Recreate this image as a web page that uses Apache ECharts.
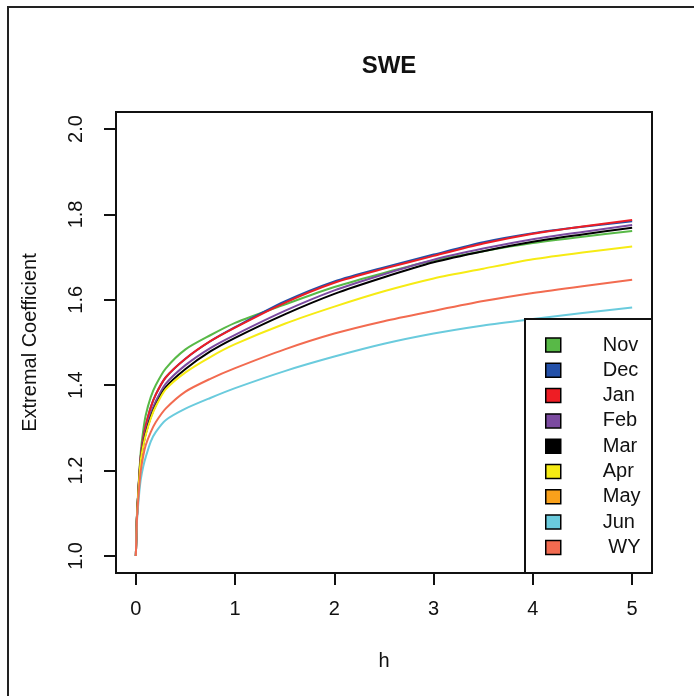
<!DOCTYPE html>
<html>
<head>
<meta charset="utf-8">
<script src="https://cdn.jsdelivr.net/npm/echarts@6/dist/echarts.min.js"></script>
<style>
html,body{margin:0;padding:0;background:#fff;}
#chart{width:694px;height:696px;}
</style>
</head>
<body>
<div id="chart"></div>
<script>
// ---- data ----
const hValues = [0, 0.01, 0.02, 0.035, 0.05, 0.075, 0.1, 0.15, 0.2, 0.3, 0.5, 0.75, 1, 1.5, 2, 2.5, 3, 3.5, 4, 4.5, 5];
const seriesNames = ['Nov', 'Dec', 'Jan', 'Feb', 'Mar', 'Apr', 'May', 'Jun', 'WY'];
const seriesColors = ['#58B947', '#2350A8', '#EE1D24', '#7B4AA0', '#000000', '#F6EB14', '#F9A11B', '#6ACBDD', '#F26B50'];
const novValues = [1, 1.09, 1.135, 1.195, 1.245, 1.295, 1.33, 1.372, 1.40, 1.439, 1.484, 1.517, 1.546, 1.589, 1.630, 1.663, 1.692, 1.714, 1.733, 1.748, 1.761];
const decValues = [1, 1.085, 1.13, 1.19, 1.235, 1.275, 1.305, 1.348, 1.378, 1.418, 1.462, 1.503, 1.536, 1.596, 1.643, 1.676, 1.706, 1.735, 1.756, 1.771, 1.784];
const janValues = [1, 1.085, 1.13, 1.19, 1.235, 1.275, 1.305, 1.348, 1.378, 1.418, 1.462, 1.503, 1.535, 1.593, 1.640, 1.673, 1.703, 1.732, 1.755, 1.772, 1.787];
const febValues = [1, 1.085, 1.13, 1.185, 1.228, 1.265, 1.293, 1.333, 1.362, 1.403, 1.447, 1.487, 1.518, 1.574, 1.622, 1.660, 1.694, 1.720, 1.742, 1.759, 1.775];
const marValues = [1, 1.085, 1.13, 1.185, 1.225, 1.26, 1.287, 1.325, 1.353, 1.395, 1.438, 1.479, 1.511, 1.566, 1.614, 1.653, 1.688, 1.714, 1.736, 1.753, 1.769];
const aprValues = [1, 1.085, 1.13, 1.185, 1.225, 1.258, 1.284, 1.322, 1.35, 1.39, 1.43, 1.466, 1.496, 1.544, 1.584, 1.62, 1.650, 1.673, 1.695, 1.711, 1.725];
const mayValues = [];
const junValues = [1, 1.075, 1.11, 1.15, 1.18, 1.21, 1.232, 1.268, 1.29, 1.318, 1.345, 1.37, 1.393, 1.433, 1.467, 1.497, 1.521, 1.540, 1.555, 1.569, 1.582];
const wyValues = [1, 1.08, 1.12, 1.165, 1.2, 1.235, 1.26, 1.29, 1.313, 1.345, 1.385, 1.415, 1.44, 1.484, 1.521, 1.55, 1.574, 1.597, 1.616, 1.632, 1.647];
const seriesValues = [novValues, decValues, janValues, febValues, marValues, aprValues, mayValues, junValues, wyValues];
const xTicks = [0, 1, 2, 3, 4, 5];
const yTicks = [1.0, 1.2, 1.4, 1.6, 1.8, 2.0];
const titleText = 'SWE';
const xName = 'h';
const yName = 'Extremal Coefficient';

const FONT = '"Liberation Sans", Arial, sans-serif';
const chart = echarts.init(document.getElementById('chart'), null, {renderer: 'canvas'});

const series = seriesNames.map((name, i) => ({
  name: name,
  type: 'line',
  data: seriesValues[i].map((v, j) => [hValues[j], v]),
  showSymbol: false,
  symbol: 'none',
  smooth: 0.25,
  color: seriesColors[i],
  lineStyle: {width: 2, color: seriesColors[i]},
  itemStyle: {color: seriesColors[i]},
  z: 2 + i * 0.01,
  animation: false
}));

chart.setOption({
  animation: false,
  backgroundColor: '#fff',
  title: {
    text: titleText,
    left: 384,
    top: 49,
    textAlign: 'center',
    textStyle: {fontFamily: FONT, fontWeight: 'bold', fontSize: 24, color: '#111'}
  },
  grid: {
    left: 116, right: 42, top: 112, bottom: 123,
    show: true, borderColor: '#111', borderWidth: 2, backgroundColor: 'transparent'
  },
  xAxis: {
    type: 'value', min: -0.2, max: 5.2,
    name: xName, nameLocation: 'middle', nameGap: 78,
    nameTextStyle: {fontFamily: FONT, fontSize: 20, color: '#111'},
    axisLine: {show: false, onZero: false},
    axisTick: {show: true, inside: false, length: 12, customValues: xTicks, lineStyle: {color: '#111', width: 2}},
    axisLabel: {customValues: xTicks, margin: 26, fontFamily: FONT, fontSize: 20, color: '#111'},
    splitLine: {show: false}
  },
  yAxis: {
    type: 'value', min: 0.96, max: 2.04,
    name: yName, nameLocation: 'middle', nameGap: 76, nameRotate: 90,
    nameTextStyle: {fontFamily: FONT, fontSize: 20, color: '#111'},
    axisLine: {show: false, onZero: false},
    axisTick: {show: true, inside: false, length: 12, customValues: yTicks, lineStyle: {color: '#111', width: 2}},
    axisLabel: {customValues: yTicks, rotate: 90, margin: 30, fontFamily: FONT, fontSize: 20, color: '#111',
      formatter: v => Number(v).toFixed(1)},
    splitLine: {show: false}
  },
  legend: {
    orient: 'vertical',
    left: 545, top: 335,
    padding: 0,
    itemWidth: 15, itemHeight: 14, itemGap: 5.3,
    icon: 'rect',
    z: 20,
    itemStyle: {borderColor: '#000', borderWidth: 1.5},
    textStyle: {fontFamily: FONT, fontSize: 20, color: '#111', lineHeight: 20, padding: [0, 0, 0, 37]},
    formatter: n => n === 'WY' ? ' WY' : n,
    data: seriesNames.map((n, i) => ({name: n, itemStyle: {color: seriesColors[i]}}))
  },
  graphic: [
    {type: 'rect', z: 15, shape: {x: 525, y: 319, width: 127, height: 254},
     style: {fill: '#fff', stroke: '#111', lineWidth: 2}},
    {type: 'rect', z: 30, shape: {x: 8, y: 7, width: 800, height: 800},
     style: {fill: 'none', stroke: '#222', lineWidth: 2}}
  ],
  series: series
});
</script>
</body>
</html>
